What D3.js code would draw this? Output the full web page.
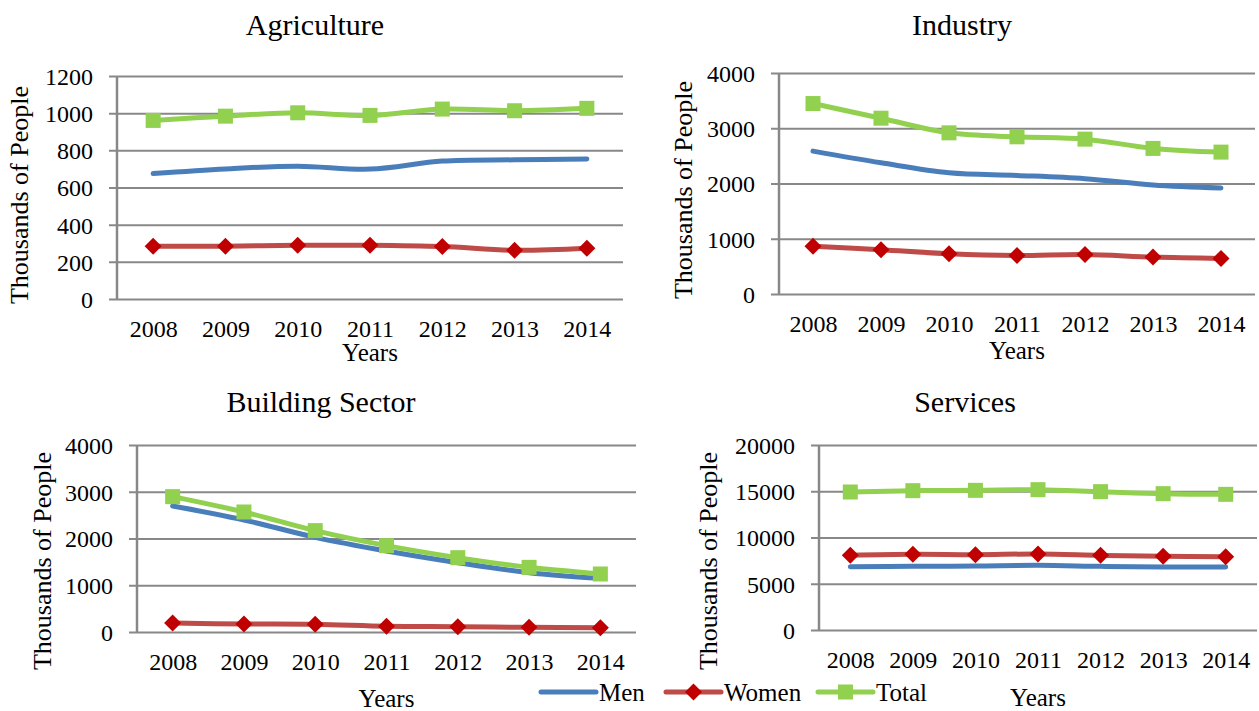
<!DOCTYPE html>
<html>
<head>
<meta charset="utf-8">
<script src="https://cdn.jsdelivr.net/npm/d3@7"></script>
<style>
  body { margin: 0; background: #fff; }
</style>
</head>
<body>
<div id="chart"></div>
<script>
// Data (thousands of people)
var years = ["2008", "2009", "2010", "2011", "2012", "2013", "2014"];
var seriesNames = ["Men", "Women", "Total"];

var agricultureMen   = [675, 700, 715, 699, 742, 749, 753];
var agricultureWomen = [284, 284, 289, 289, 282, 262, 273];
var agricultureTotal = [961, 984, 1002, 988, 1022, 1013, 1026];

var industryMen   = [2586, 2376, 2195, 2147, 2087, 1973, 1919];
var industryWomen = [866, 800, 728, 698, 716, 668, 644];
var industryTotal = [3447, 3182, 2917, 2845, 2803, 2635, 2568];

var buildingMen   = [2695, 2396, 2025, 1733, 1483, 1269, 1148];
var buildingWomen = [193, 171, 164, 121, 114, 100, 93];
var buildingTotal = [2895, 2567, 2168, 1847, 1590, 1383, 1241];

var servicesMen   = [6847, 6883, 6919, 6991, 6883, 6811, 6811];
var servicesWomen = [8072, 8180, 8144, 8216, 8072, 7964, 7928];
var servicesTotal = [14919, 15063, 15099, 15171, 14955, 14739, 14667];

var agricultureTicks = [0, 200, 400, 600, 800, 1000, 1200];
var industryTicks    = [0, 1000, 2000, 3000, 4000];
var buildingTicks    = [0, 1000, 2000, 3000, 4000];
var servicesTicks    = [0, 5000, 10000, 15000, 20000];

var colors = { Men: "#4a7ebb", Women: "#be4b48", Total: "#92d050" };
var markerColors = { Women: "#c00000", Total: "#92d050" };
var serif = "'Liberation Serif', 'DejaVu Serif', serif";

var width = 1259, height = 711;

var svg = d3.select("#chart").append("svg")
  .attr("width", width)
  .attr("height", height)
  .style("font-family", serif);

// panel layout (pixel boxes of each plot area)
var panels = [
  { title: "Agriculture", values: [agricultureMen, agricultureWomen, agricultureTotal], ticks: agricultureTicks,
    left: 117, right: 623, top: 76, bottom: 299, titleX: 315, titleY: 35, yTitleX: 19, yTitleY: 195, yearsY: 352 },
  { title: "Industry", values: [industryMen, industryWomen, industryTotal], ticks: industryTicks,
    left: 779, right: 1255, top: 73, bottom: 294, titleX: 962, titleY: 35, yTitleX: 683, yTitleY: 190, yearsY: 350 },
  { title: "Building Sector", values: [buildingMen, buildingWomen, buildingTotal], ticks: buildingTicks,
    left: 137, right: 636, top: 445, bottom: 632, titleX: 321, titleY: 412, yTitleX: 42, yTitleY: 561, yearsY: 698 },
  { title: "Services", values: [servicesMen, servicesWomen, servicesTotal], ticks: servicesTicks,
    left: 819, right: 1257, top: 445, bottom: 630, titleX: 965, titleY: 412, yTitleX: 708, yTitleY: 561, yearsY: 697 }
];

function drawMarker(g, name, x, y) {
  if (name === "Women") {
    var r = 8.5;
    g.append("path")
      .attr("d", "M" + x + "," + (y - r) + "L" + (x + r) + "," + y + "L" + x + "," + (y + r) + "L" + (x - r) + "," + y + "Z")
      .attr("fill", markerColors.Women);
  } else if (name === "Total") {
    g.append("rect")
      .attr("x", x - 7.5).attr("y", y - 7.5)
      .attr("width", 15).attr("height", 15)
      .attr("fill", markerColors.Total);
  }
}

panels.forEach(function(p) {
  var g = svg.append("g");

  var x = d3.scalePoint().domain(years).range([p.left, p.right]).padding(0.5);
  var y = d3.scaleLinear().domain([0, d3.max(p.ticks)]).range([p.bottom, p.top]);

  // gridlines + y tick labels
  var yAxis = d3.axisLeft(y).tickValues(p.ticks).tickSize(-(p.right - p.left + 8)).tickPadding(16).tickFormat(d3.format("d"));
  var ya = g.append("g")
    .attr("transform", "translate(" + (p.left - 8) + ",0)")
    .call(yAxis)
    .attr("font-family", serif)
    .attr("font-size", 24);
  ya.select(".domain").remove();
  ya.selectAll(".tick line").attr("stroke", "#888").attr("stroke-width", 2);
  ya.selectAll(".tick text").attr("fill", "#000").attr("x", -16).attr("dy", "0.35em");

  // vertical axis line
  g.append("line")
    .attr("x1", p.left).attr("x2", p.left)
    .attr("y1", p.top).attr("y2", p.bottom)
    .attr("stroke", "#888").attr("stroke-width", 2.5);

  // x tick labels
  var xAxis = d3.axisBottom(x).tickSize(0).tickPadding(0);
  var xa = g.append("g")
    .attr("transform", "translate(0," + p.bottom + ")")
    .call(xAxis)
    .attr("font-family", serif)
    .attr("font-size", 24);
  xa.select(".domain").remove();
  xa.selectAll(".tick text").attr("fill", "#000").attr("y", 30).attr("dy", "0.35em");

  // titles
  g.append("text").attr("x", p.titleX).attr("y", p.titleY)
    .attr("text-anchor", "middle").attr("font-size", 30).text(p.title);
  g.append("text")
    .attr("transform", "translate(" + p.yTitleX + "," + p.yTitleY + ") rotate(-90)")
    .attr("text-anchor", "middle").attr("dy", "0.35em")
    .attr("font-size", 26).text("Thousands of People");
  g.append("text").attr("x", (p.left + p.right) / 2).attr("y", p.yearsY)
    .attr("text-anchor", "middle").attr("dy", "0.35em")
    .attr("font-size", 25).text("Years");

  // series lines
  var line = d3.line()
    .x(function(d, i) { return x(years[i]); })
    .y(function(d) { return y(d); })
    .curve(d3.curveCatmullRom.alpha(0.5));

  seriesNames.forEach(function(name, si) {
    var vals = p.values[si];
    g.append("path")
      .datum(vals)
      .attr("d", line)
      .attr("fill", "none")
      .attr("stroke", colors[name])
      .attr("stroke-width", 5)
      .attr("stroke-linecap", "round")
      .attr("stroke-linejoin", "round");
    vals.forEach(function(v, i) {
      drawMarker(g, name, x(years[i]), y(v));
    });
  });
});

// legend
var legendItems = [
  { name: "Men", x1: 541, x2: 596 },
  { name: "Women", x1: 666, x2: 721 },
  { name: "Total", x1: 818, x2: 873 }
];
var legendY = 692;
var lg = svg.append("g");
legendItems.forEach(function(it) {
  lg.append("line")
    .attr("x1", it.x1).attr("x2", it.x2)
    .attr("y1", legendY).attr("y2", legendY)
    .attr("stroke", colors[it.name]).attr("stroke-width", 5)
    .attr("stroke-linecap", "round");
  drawMarker(lg, it.name, (it.x1 + it.x2) / 2, legendY);
  lg.append("text")
    .attr("x", it.x2 + 3).attr("y", legendY)
    .attr("dy", "0.35em")
    .attr("font-size", 25)
    .text(it.name);
});
</script>
</body>
</html>
